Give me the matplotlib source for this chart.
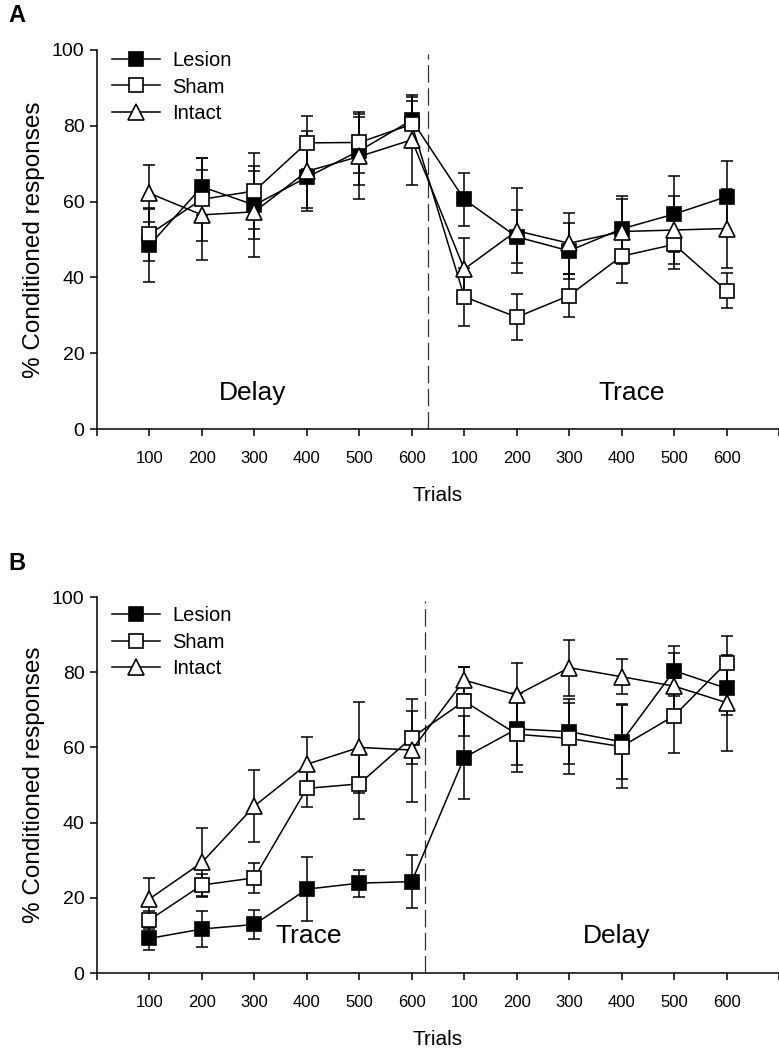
import numpy as np
import matplotlib
matplotlib.use("Agg")
import matplotlib.pyplot as plt

plt.rcParams['font.family'] = ['Liberation Sans', 'DejaVu Sans']

# Tick labels (trial blocks, two phases)
tick_labels = ["100", "200", "300", "400", "500", "600",
               "100", "200", "300", "400", "500", "600"]
groups = ["Lesion", "Sham", "Intact"]

# Panel A: Delay then Trace
a_lesion = [48.5, 63.9, 59.1, 66.4, 73.4, 81.5, 60.6, 50.7, 47.0, 52.8, 56.7, 61.3]
a_lesion_err = [9.6, 7.5, 9.0, 8.0, 9.0, 6.0, 7.0, 7.0, 7.4, 8.8, 10.0, 9.5]
a_sham = [51.4, 60.6, 62.8, 75.5, 75.6, 80.4, 34.9, 29.5, 35.2, 45.6, 48.7, 36.5]
a_sham_err = [7.0, 11.0, 10.0, 7.0, 8.0, 6.2, 7.7, 6.0, 5.6, 7.0, 6.5, 4.7]
a_intact = [62.2, 56.5, 57.3, 68.0, 71.9, 76.3, 42.2, 52.3, 49.0, 52.1, 52.5, 52.9]
a_intact_err = [7.5, 11.9, 12.0, 10.5, 11.2, 11.8, 8.1, 11.2, 8.0, 8.6, 9.0, 10.5]

# Panel B: Trace then Delay
b_lesion = [9.2, 11.7, 12.9, 22.3, 23.9, 24.3, 57.3, 64.9, 64.2, 61.5, 80.4, 75.7]
b_lesion_err = [3.0, 4.7, 3.9, 8.6, 3.6, 7.1, 11.0, 9.6, 8.6, 10.0, 6.6, 7.1]
b_sham = [14.1, 23.4, 25.3, 49.1, 50.3, 62.6, 72.3, 63.5, 62.4, 60.2, 68.4, 82.5]
b_sham_err = [2.5, 3.0, 4.0, 5.0, 9.3, 7.0, 9.2, 10.0, 9.5, 11.0, 10.0, 7.2]
b_intact = [19.7, 29.4, 44.4, 55.5, 60.0, 59.3, 77.9, 73.9, 81.2, 78.8, 76.3, 71.9]
b_intact_err = [5.5, 9.1, 9.6, 7.2, 12.2, 13.7, 3.6, 8.6, 7.4, 4.6, 8.7, 12.8]

W, H = 779, 1051
fig = plt.figure(figsize=(W / 100, H / 100), dpi=100)

left = 97 / W
width = 1.0 - left
axA = fig.add_axes([left, 1 - 429 / H, width, (429 - 50) / H])
axB = fig.add_axes([left, 1 - 973 / H, width, (973 - 597) / H])

styles = {
    "Lesion": dict(marker="s", mfc="black", mec="black", ms=10),
    "Sham": dict(marker="s", mfc="white", mec="black", ms=10),
    "Intact": dict(marker="^", mfc="white", mec="black", ms=11),
}

x = np.arange(1, 13)


def draw(ax, data, phase_labels, vline_x, label_pos, legend_y):
    for name, (vals, errs) in zip(groups, data):
        ax.errorbar(x, vals, yerr=errs, fmt="none", ecolor="black",
                    elinewidth=1.1, capsize=4.5, capthick=1.1, zorder=2)
    handles = []
    for name, (vals, errs) in zip(groups, data):
        h, = ax.plot(x, vals, color="black", lw=1.1, mew=1.2, zorder=3,
                     label=name, **styles[name])
        handles.append(h)
    ax.plot([vline_x, vline_x], [0, 99], color="#333333", lw=0.9,
            dashes=(14, 4.5), zorder=1)
    ax.set_xlim(0, 13)
    ax.set_ylim(0, 100)
    ax.spines["top"].set_visible(False)
    ax.spines["right"].set_visible(False)
    for s in ("left", "bottom"):
        ax.spines[s].set_linewidth(1.1)
    ax.set_xticks(np.arange(0, 14))
    ax.set_xticklabels([""] + tick_labels + [""])
    ax.set_yticks([0, 20, 40, 60, 80, 100])
    ax.tick_params(axis="x", direction="out", length=5, width=1.1,
                   labelsize=12, pad=11)
    ax.tick_params(axis="y", direction="out", length=5, width=1.1,
                   labelsize=14, pad=4)
    ax.set_xlabel("Trials", fontsize=15, labelpad=14)
    ax.set_ylabel("% Conditioned responses", fontsize=17.5, labelpad=5)
    for txt, (px, py) in zip(phase_labels, label_pos):
        ax.text(px, py, txt, fontsize=19, ha="center", va="center")
    ax.legend(handles=handles, loc="upper left", bbox_to_anchor=(0.01, legend_y),
              frameon=False, fontsize=14.5, handlelength=2.4,
              handletextpad=0.6, labelspacing=0.38, borderaxespad=0.0)
    return ax


draw(axA, [(a_lesion, a_lesion_err), (a_sham, a_sham_err), (a_intact, a_intact_err)],
     ["Delay", "Trace"], 6.3, [(2.97, 9.5), (10.2, 9.5)], 1.019)
draw(axB, [(b_lesion, b_lesion_err), (b_sham, b_sham_err), (b_intact, b_intact_err)],
     ["Trace", "Delay"], 6.25, [(4.04, 9.8), (9.9, 9.8)], 0.997)

fig.text(8 / W, 1 - 16 / H, "A", fontsize=17, fontweight="bold", ha="left", va="center")
fig.text(8 / W, 1 - 563 / H, "B", fontsize=17, fontweight="bold", ha="left", va="center")

fig.savefig("out.png", dpi=100)
